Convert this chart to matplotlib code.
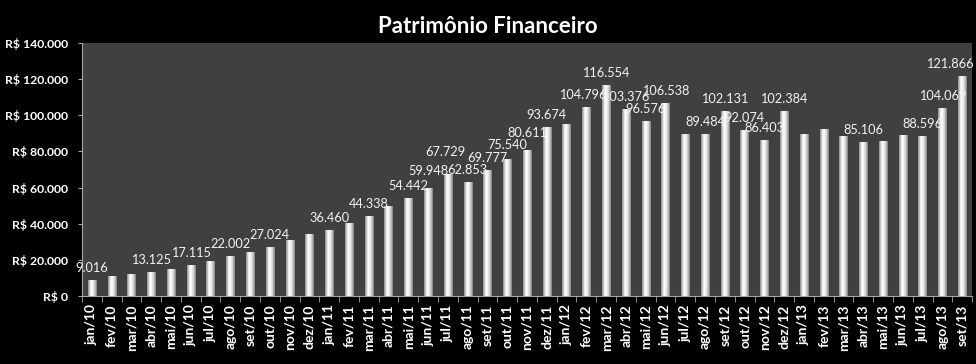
import matplotlib
matplotlib.use("Agg")
import matplotlib.pyplot as plt
import numpy as np
from matplotlib.colors import LinearSegmentedColormap
from matplotlib.ticker import FuncFormatter, FixedLocator

plt.rcParams['font.family'] = ['Lato', 'DejaVu Sans']

months = ['jan', 'fev', 'mar', 'abr', 'mai', 'jun', 'jul', 'ago', 'set', 'out', 'nov', 'dez']
categories = [f"{m}/{y}" for y in ('10', '11', '12') for m in months] + \
             [f"{m}/13" for m in months[:9]]

values = [
    9016, 11000, 12200, 13125, 14900, 17115, 19300, 22002, 24300, 27024, 31000, 34300,
    36460, 40500, 44338, 50000, 54442, 59948, 67729, 62853, 69777, 75540, 80611, 93674,
    95000, 104796, 116554, 103376, 96576, 106538, 89800, 89484, 102131, 92074, 86403, 102384,
    89400, 92300, 88400, 85106, 86000, 88800, 88596, 104069, 121866,
]

# which bars carry a data label in the original
labeled = ['jan/10', 'abr/10', 'jun/10', 'ago/10', 'out/10',
           'jan/11', 'mar/11', 'mai/11', 'jun/11', 'jul/11', 'ago/11', 'set/11',
           'out/11', 'nov/11', 'dez/11', 'fev/12', 'mar/12', 'abr/12', 'mai/12',
           'jun/12', 'ago/12', 'set/12', 'out/12', 'nov/12', 'dez/12',
           'abr/13', 'jul/13', 'ago/13', 'set/13']

# hand-moved labels (pixels)
nudge = {'jun/11': (0, 5), 'jul/11': (-3, 10), 'out/11': (0, 2), 'nov/11': (0, 5),
         'fev/12': (-4, 0), 'set/13': (-12, 0)}

fig = plt.figure(figsize=(9.76, 3.64), dpi=100, facecolor='black')
ax = fig.add_axes([0.084, 0.187, 0.912, 0.695])
ax.set_facecolor('#404040')

x = np.arange(len(categories))
bar_w = 0.42
bars = ax.bar(x, values, width=bar_w, color='#d9d9d9', edgecolor='none', zorder=2)

# cylinder-like shading on every bar
shade = LinearSegmentedColormap.from_list(
    'cyl', [(0, '#8c8c8c'), (0.3, '#f4f4f4'), (0.45, '#ffffff'), (0.75, '#cfcfcf'), (1, '#7d7d7d')])
grad = np.linspace(0, 1, 64).reshape(1, -1)
for b in bars:
    im = ax.imshow(grad, cmap=shade, aspect='auto', zorder=3,
                   extent=[b.get_x(), b.get_x() + b.get_width(), 0, b.get_height()])
    im.set_clip_path(b)

for cat, xi, v in zip(categories, x, values):
    if cat not in labeled:
        continue
    dx, dy = nudge.get(cat, (0, 0))
    ax.annotate(f"{v:,}".replace(',', '.'), (xi, v), xytext=(dx, 12 + dy),
                textcoords='offset pixels', ha='center', va='center',
                color='#f2f2f2', fontsize=9.2, zorder=4)

ax.set_xlim(-0.5, len(categories) - 0.5)
ax.set_ylim(0, 140000)
ax.set_yticks(np.arange(0, 140001, 20000))
ax.yaxis.set_major_formatter(FuncFormatter(lambda v, p: f"R$ {int(v):,}".replace(',', '.')))
ax.set_xticks(x)
ax.set_xticklabels(categories, rotation=90)
ax.xaxis.set_minor_locator(FixedLocator(np.arange(-0.5, len(categories), 1)))

ax.tick_params(axis='y', colors='#a6a6a6', labelcolor='white', length=3, pad=7,
               labelsize=8.8)
ax.tick_params(axis='x', which='major', length=0, pad=6, labelcolor='white', labelsize=10)
ax.tick_params(axis='x', which='minor', length=4, color='#a6a6a6')
for lab in ax.get_yticklabels() + ax.get_xticklabels():
    lab.set_fontweight('bold')

for side in ('top', 'right'):
    ax.spines[side].set_visible(False)
for side in ('left', 'bottom'):
    ax.spines[side].set_color('#a6a6a6')

fig.text(0.5, 0.926, 'Patrimônio Financeiro', ha='center', va='center',
         color='white', fontsize=16, fontweight='bold')

fig.savefig('out.png', dpi=100, facecolor='black')
